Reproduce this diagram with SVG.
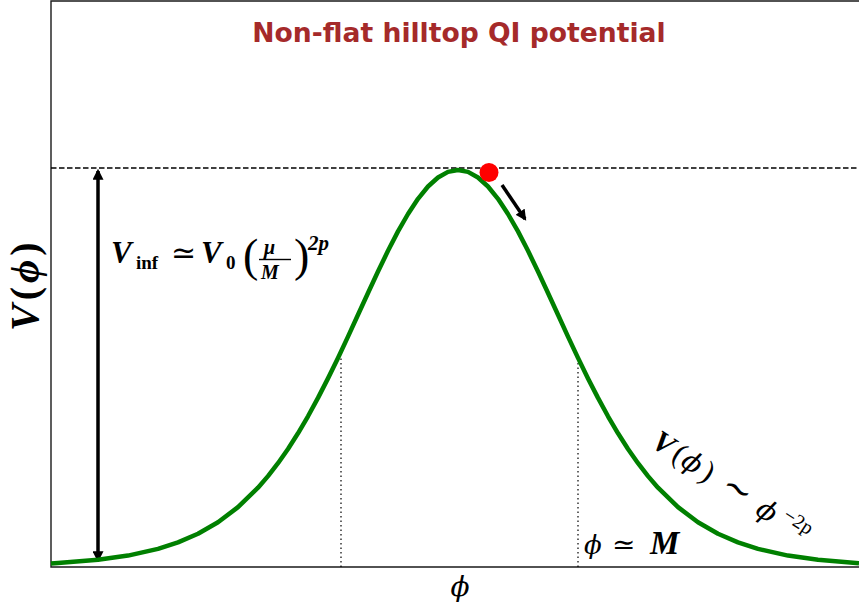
<svg xmlns="http://www.w3.org/2000/svg" width="859" height="610" viewBox="0 0 859 610">
<style>
.frame{fill:none;stroke:#1a1a1a;stroke-width:1.4}
.curve{fill:none;stroke:#008000;stroke-width:4.5;stroke-linejoin:round}
.dash{fill:none;stroke:#000;stroke-width:1.3;stroke-dasharray:5.5,2.5}
.dot{fill:none;stroke:#000;stroke-width:1.2;stroke-dasharray:1.5,3}
.arr{fill:none;stroke:#000;stroke-width:3.5}
.math{font-family:"Liberation Serif","DejaVu Serif",serif;fill:#000}
.phi{font-family:"DejaVu Serif",serif}
.bi{font-weight:bold;font-style:italic}
.it{font-style:italic}
.b{font-weight:bold}
</style>
<defs>
<marker id="head" viewBox="0 0 10 10" refX="8" refY="5" markerWidth="11" markerHeight="11" markerUnits="userSpaceOnUse" orient="auto-start-reverse">
<path d="M0,0 L10,5 L0,10 Z" fill="#000"/>
</marker>
</defs>
<rect width="859" height="610" fill="#fff"/>
<g id="axes">
<path class="frame" d="M859,1 L51,1 L51,567 L859,567"/>
</g>
<g id="title">
<text x="459" y="42" text-anchor="middle" font-family="DejaVu Sans" font-weight="bold" font-size="26.6" fill="#a52a2a">Non-flat hilltop QI potential</text>
</g>
<g id="connectors">
<line class="dash" x1="51" y1="168" x2="859" y2="168"/>
<line class="dot" x1="341" y1="567" x2="341" y2="358"/>
<line class="dot" x1="578" y1="567" x2="578" y2="360"/>
<line class="arr" x1="98" y1="171" x2="98" y2="560" marker-start="url(#head)" marker-end="url(#head)"/>
<line class="arr" x1="502" y1="185" x2="525" y2="219" marker-end="url(#head)"/>
</g>
<g id="potential-curve">
<path class="curve" d="M51,563.6 L58,563.1 L98,559.8 L128,555.6 L158,548.9 L178,542.4 L198,533.8 L218,522.2 L238,507.1 L258,487.7 L268,476.1 L278,463.2 L288,449.0 L298,433.3 L308,416.3 L318,397.9 L328,378.4 L338,357.9 L348,336.6 L358,314.8 L368,293.0 L378,271.5 L388,250.8 L398,231.4 L408,214.0 L418,198.8 L428,186.5 L438,177.5 L448,171.9 L458,170 L468,171.9 L478,177.5 L488,186.5 L498,198.8 L508,214.0 L518,231.4 L528,250.8 L538,271.5 L548,293.0 L558,314.8 L568,336.6 L578,357.9 L588,378.4 L598,397.9 L608,416.3 L618,433.3 L628,449.0 L638,463.2 L648,476.1 L658,487.7 L678,507.1 L698,522.2 L718,533.8 L738,542.4 L758,548.9 L788,555.6 L818,559.8 L859,563.2"/>
</g>
<g id="ball">
<circle cx="489" cy="172.5" r="9.5" fill="#ff0000"/>
</g>
<g id="label-vinf" class="math">
<text x="111" y="263" font-size="31" class="bi">V</text>
<text x="136" y="269" font-size="19" class="b">inf</text>
<text x="171" y="263" font-size="30">≃</text>
<text x="201" y="263" font-size="31" class="bi">V</text>
<text x="226" y="269" font-size="19" class="b">0</text>
<text x="243" y="271" font-size="46">(</text>
<text x="264" y="254" font-size="20" class="bi">μ</text>
<line x1="259" y1="259.5" x2="291" y2="259.5" stroke="#000" stroke-width="1.4"/>
<text x="261" y="279" font-size="20" class="bi">M</text>
<text x="294" y="271" font-size="46">)</text>
<text x="308" y="250" font-size="21" class="bi">2p</text>
</g>
<g id="label-ylabel" class="math">
<text transform="translate(38,331) rotate(-90)" font-size="40" letter-spacing="4" class="b"><tspan class="bi">V</tspan><tspan>(</tspan><tspan class="bi">ϕ</tspan><tspan>)</tspan></text>
</g>
<g id="label-xlabel" class="math">
<text x="460" y="596" font-size="28" class="it phi" text-anchor="middle">ϕ</text>
</g>
<g id="label-phiM" class="math">
<text x="584" y="554" font-size="28"><tspan class="it phi" font-size="26">ϕ</tspan><tspan x="612">≃</tspan><tspan x="650" class="bi" font-size="33">M</tspan></text>
</g>
<g id="label-tail" class="math">
<text transform="translate(650,446) rotate(33)" font-size="30"><tspan x="0" class="bi">V</tspan><tspan x="24">(</tspan><tspan x="35" class="it phi" font-size="28">ϕ</tspan><tspan x="58">)</tspan><tspan x="82" font-size="36">∼</tspan><tspan x="124" class="it phi" font-size="28">ϕ</tspan><tspan x="150" dy="-11" font-size="20">−2p</tspan></text>
</g>
</svg>
